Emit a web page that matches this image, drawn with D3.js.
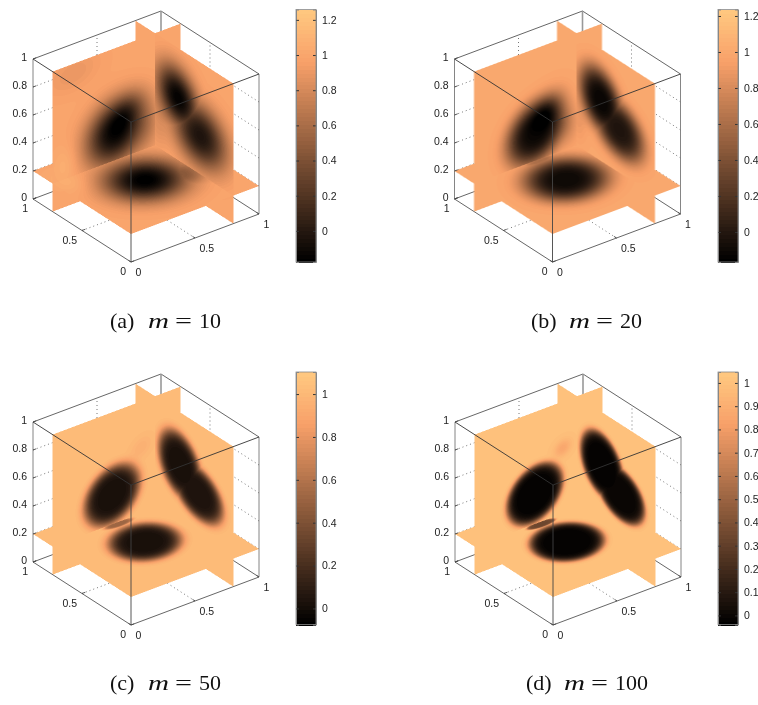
<!DOCTYPE html>
<html>
<head>
<meta charset="utf-8">
<script src="https://cdn.jsdelivr.net/npm/d3@7"></script>
<style>
  html, body { margin: 0; padding: 0; background: #fff; }
  svg { display: block; }
  .tick-label, .colorbar text { font-family: "Liberation Sans", Arial, sans-serif; font-size: 10.5px; fill: #222; }
  .caption { font-family: "Liberation Serif", serif; font-size: 22px; fill: #111; }
  .soft { filter: blur(0.35px); }
</style>
</head>
<body>
<div id="chart"></div>
<script>
// tick labels of the cube and the captions
const cubeTicksZ = [0, 0.2, 0.4, 0.6, 0.8, 1];
const cubeTicksXY = [0, 0.5, 1];
const captionLetters = ["(a)", "(b)", "(c)", "(d)"];
const captionValues = ["10", "20", "50", "100"];

// colour ranges and ticks of the four colorbars
const rangeA = [-0.177, 1.259], ticksA = [0, 0.2, 0.4, 0.6, 0.8, 1, 1.2];
const rangeB = [-0.167, 1.236], ticksB = [0, 0.2, 0.4, 0.6, 0.8, 1, 1.2];
const rangeC = [-0.075, 1.103], ticksC = [0, 0.2, 0.4, 0.6, 0.8, 1];
const rangeD = [-0.039, 1.047], ticksD = [0, 0.1, 0.2, 0.3, 0.4, 0.5, 0.6, 0.7, 0.8, 0.9, 1];

// edge sharpness and background level of each reconstruction
const sharpness = [2.4, 3.4, 6, 9];
const background = [1.0, 1.0, 1.02, 1.0];

// dark regions read off each slice: [a, b, a1, b1, a2, b2, depth]
// (centre and two axis vectors in slice coordinates)
// back wall slice y = 0.8, a = x, b = z
const wallLeftA = [
  [0.488, 0.396, 0.154, 0.167, 0.164, -0.146, 1.12],
  [0.6, 0.54, 0.11, 0.09, 0.09, -0.09, 0.28],
  [0.16, 0.93, 0.2, 0.04, 0.04, -0.12, 0.1],
  [0.1, 0.3, 0.1, 0.0, 0.0, 0.14, -0.08],
  [0.75, 0.34, 0.1, 0.0, 0.0, 0.18, 0.13]
];
const wallLeftB = [
  [0.48, 0.4, 0.165, 0.165, 0.155, -0.142, 1.1],
  [0.59, 0.55, 0.1, 0.09, 0.08, -0.08, 0.28],
  [0.75, 0.34, 0.08, 0.0, 0.0, 0.14, 0.12]
];
const wallLeftC = [
  [0.464, 0.409, 0.168, 0.15, 0.142, -0.142, 1.0],
  [0.69, 0.67, 0.07, 0.06, 0.05, -0.05, 0.06]
];
const wallLeftD = [
  [0.47, 0.415, 0.171, 0.15, 0.142, -0.142, 1.02],
  [0.688, 0.668, 0.05, 0.04, 0.04, -0.04, 0.14]
];
// side slice x = 0.8, a = y, b = z
const wallRightA = [
  [0.565, 0.643, -0.134, -0.175, -0.165, 0.116, 1.15],
  [0.34, 0.475, -0.2, -0.135, -0.175, 0.17, 1.03],
  [0.78, 0.38, 0.1, 0.0, 0.0, 0.18, 0.13]
];
const wallRightB = [
  [0.55, 0.63, -0.137, -0.187, -0.169, 0.119, 1.12],
  [0.365, 0.505, -0.198, -0.127, -0.155, 0.149, 1.02],
  [0.78, 0.38, 0.08, 0.0, 0.0, 0.14, 0.1]
];
const wallRightC = [
  [0.545, 0.624, -0.138, -0.192, -0.173, 0.124, 1.0],
  [0.361, 0.506, -0.21, -0.122, -0.152, 0.143, 0.98]
];
const wallRightD = [
  [0.545, 0.624, -0.139, -0.19, -0.173, 0.124, 1.02],
  [0.355, 0.5, -0.2, -0.121, -0.151, 0.143, 1.0]
];
// floor slice z = 0.2, a = x, b = y
const floorA = [
  [0.484, 0.489, 0.215, -0.146, -0.161, -0.21, 1.18],
  [0.7, 0.41, 0.13, -0.09, -0.1, -0.13, 0.55],
  [0.1, 0.75, 0.12, 0.0, 0.0, 0.16, -0.08]
];
const floorB = [
  [0.485, 0.495, 0.22, -0.143, -0.169, -0.216, 1.1],
  [0.5, 0.78, 0.12, 0.0, 0.0, 0.04, 0.4]
];
const floorC = [
  [0.491, 0.499, 0.197, -0.118, -0.147, -0.192, 1.0],
  [0.5, 0.78, 0.11, 0.0, 0.0, 0.035, 0.5]
];
const floorD = [
  [0.491, 0.499, 0.202, -0.123, -0.152, -0.197, 1.02],
  [0.5, 0.775, 0.11, 0.0, 0.0, 0.035, 0.65]
];

const width = 758, height = 705;
const sliceX = 0.8, sliceY = 0.8, sliceZ = 0.2;

const panels = [
  {ox: 131, oy: 262, barX: 296, barTop: 9.5, range: rangeA, ticks: ticksA, left: wallLeftA, right: wallRightA, floor: floorA, capX: 110, capY: 328},
  {ox: 552.5, oy: 262, barX: 718, barTop: 9.5, range: rangeB, ticks: ticksB, left: wallLeftB, right: wallRightB, floor: floorB, capX: 531, capY: 328},
  {ox: 131, oy: 625, barX: 296, barTop: 372, range: rangeC, ticks: ticksC, left: wallLeftC, right: wallRightC, floor: floorC, capX: 110, capY: 690},
  {ox: 553, oy: 625, barX: 718, barTop: 372, range: rangeD, ticks: ticksD, left: wallLeftD, right: wallRightD, floor: floorD, capX: 526, capY: 690}
];

// projected cube edges
const xToPx = d3.scaleLinear().domain([0, 1]).range([0, 128]);
const xToPy = d3.scaleLinear().domain([0, 1]).range([0, -48]);
const yToPx = d3.scaleLinear().domain([0, 1]).range([0, -98]);
const yToPy = d3.scaleLinear().domain([0, 1]).range([0, -63]);
const zToPy = d3.scaleLinear().domain([0, 1]).range([0, -140]);
const det = 128 * -63 - (-98) * -48;

// copper, 64 levels
const copper = d3.scaleLinear().domain([0, 0.8, 1])
  .range(["rgb(0,0,0)", "rgb(248,160,105)", "rgb(255,199,127)"]);
const palette = d3.range(64).map(i => d3.rgb(copper(i / 63)));

const svg = d3.select("#chart").append("svg")
  .attr("width", width).attr("height", height)
  .attr("xmlns", "http://www.w3.org/2000/svg");

function project(p, x, y, z) {
  return [p.ox + xToPx(x) + yToPx(y), p.oy + xToPy(x) + yToPy(y) + zToPy(z)];
}

function sampleBlobs(blobs, a, b, power, level) {
  let dark = 0, mild = 0;
  for (let i = 0; i < blobs.length; i++) {
    const s = blobs[i];
    const da = a - s[0], db = b - s[1];
    const d = s[2] * s[5] - s[4] * s[3];
    const q1 = (da * s[5] - db * s[4]) / d;
    const q2 = (db * s[2] - da * s[3]) / d;
    const isDark = s[6] > 0.3;
    const c = s[6] * Math.exp(-Math.pow(q1 * q1 + q2 * q2, (isDark ? power : 2) / 2));
    if (isDark) dark = Math.max(dark, c);
    else mild += c;
  }
  return level - dark - mild;
}

function renderSlices(p, power, level) {
  const ss = 2, w = 240, h = 260, x0 = p.ox - 105, y0 = p.oy - 256;
  const canvas = document.createElement("canvas");
  canvas.width = w * ss; canvas.height = h * ss;
  const ctx = canvas.getContext("2d");
  const img = ctx.createImageData(canvas.width, canvas.height);
  const toLevel = d3.scaleLinear().domain(p.range).range([0, 64]);
  for (let j = 0; j < canvas.height; j++) {
    for (let i = 0; i < canvas.width; i++) {
      const sx = x0 + (i + 0.5) / ss - p.ox, sy = y0 + (j + 0.5) / ss - p.oy;
      let best = -Infinity, value = null;

      // slice y = 0.8
      let x = xToPx.invert(sx - yToPx(sliceY));
      let z = zToPy.invert(sy - xToPy(x) - yToPy(sliceY));
      if (x >= 0 && x <= 1 && z >= 0 && z <= 1) {
        best = -x - sliceY + z;
        value = sampleBlobs(p.left, x, z, power, level);
      }
      // slice x = 0.8
      let y = yToPx.invert(sx - xToPx(sliceX));
      z = zToPy.invert(sy - xToPy(sliceX) - yToPy(y));
      if (y >= 0 && y <= 1 && z >= 0 && z <= 1 && -sliceX - y + z > best) {
        best = -sliceX - y + z;
        value = sampleBlobs(p.right, y, z, power, level);
      }
      // slice z = 0.2
      const fy = sy - zToPy(sliceZ);
      x = (-63 * sx + 98 * fy) / det;
      y = (128 * fy + 48 * sx) / det;
      if (x >= 0 && x <= 1 && y >= 0 && y <= 1 && -x - y + sliceZ > best) {
        best = -x - y + sliceZ;
        value = sampleBlobs(p.floor, x, y, power, level);
      }

      if (value !== null) {
        const c = palette[Math.max(0, Math.min(63, Math.floor(toLevel(value))))];
        const k = (j * canvas.width + i) * 4;
        img.data[k] = c.r; img.data[k + 1] = c.g; img.data[k + 2] = c.b; img.data[k + 3] = 255;
      }
    }
  }
  ctx.putImageData(img, 0, 0);
  return {href: canvas.toDataURL(), x: x0, y: y0, w: w, h: h};
}

function drawLine(g, a, b, color, dash, lineWidth) {
  g.append("line")
    .attr("x1", a[0]).attr("y1", a[1]).attr("x2", b[0]).attr("y2", b[1])
    .attr("stroke", color).attr("stroke-width", lineWidth || 0.9)
    .attr("stroke-dasharray", dash || null);
}

panels.forEach(function (p, idx) {
  const g = svg.append("g").attr("class", "soft");
  const P = (x, y, z) => project(p, x, y, z);

  // dotted grid behind the slices
  const grid = g.append("g");
  cubeTicksZ.slice(1, -1).forEach(function (t) {
    drawLine(grid, P(0, 1, t), P(1, 1, t), "#666", "1 3");
    drawLine(grid, P(1, 0, t), P(1, 1, t), "#666", "1 3");
  });
  drawLine(grid, P(0.5, 1, 0), P(0.5, 1, 1), "#666", "1 3");
  drawLine(grid, P(1, 0.5, 0), P(1, 0.5, 1), "#666", "1 3");
  drawLine(grid, P(0.5, 0, 0), P(0.5, 1, 0), "#666", "1 3");
  drawLine(grid, P(0, 0.5, 0), P(1, 0.5, 0), "#666", "1 3");

  // back edges of the box
  const back = g.append("g");
  drawLine(back, P(0, 1, 1), P(1, 1, 1), "#555");
  drawLine(back, P(1, 1, 1), P(1, 0, 1), "#555");
  drawLine(back, P(0, 1, 0), P(1, 1, 0), "#555");
  drawLine(back, P(1, 0, 0), P(1, 1, 0), "#555");
  drawLine(back, P(1, 1, 0), P(1, 1, 1), "#999", null, 1.6);
  drawLine(back, P(0, 1, 0), P(0, 1, 1), "#777");
  drawLine(back, P(1, 0, 0), P(1, 0, 1), "#777");

  const slices = renderSlices(p, sharpness[idx], background[idx]);
  g.append("image")
    .attr("x", slices.x).attr("y", slices.y)
    .attr("width", slices.w).attr("height", slices.h)
    .attr("href", slices.href);

  // front edges drawn over the slices
  const front = g.append("g");
  drawLine(front, P(0, 1, 1), P(0, 0, 1), "#333");
  drawLine(front, P(0, 0, 1), P(1, 0, 1), "#333");
  drawLine(front, P(0, 0, 0), P(0, 0, 1), "#444");
  drawLine(front, P(0, 0, 0), P(0, 1, 0), "#555");
  drawLine(front, P(0, 0, 0), P(1, 0, 0), "#555");

  // cube ticks and labels
  cubeTicksZ.forEach(function (t) {
    const a = P(0, 1, t);
    drawLine(front, a, P(0.025, 1, t), "#444");
    front.append("text").attr("class", "tick-label")
      .attr("x", a[0] - 6).attr("y", a[1] - 2)
      .attr("text-anchor", "end").attr("dominant-baseline", "central").text(t);
  });
  cubeTicksXY.forEach(function (t) {
    const a = P(0, t, 0);
    drawLine(front, a, P(0.025, t, 0), "#444");
    front.append("text").attr("class", "tick-label")
      .attr("x", a[0] - 5).attr("y", a[1] + 9)
      .attr("text-anchor", "end").attr("dominant-baseline", "central").text(t);
    const b = P(t, 0, 0);
    drawLine(front, b, P(t, 0.025, 0), "#444");
    front.append("text").attr("class", "tick-label")
      .attr("x", b[0] + 4.5).attr("y", b[1] + 9.5)
      .attr("text-anchor", "start").attr("dominant-baseline", "central").text(t);
  });

  // colorbar
  const barH = 252.5, barW = 20;
  const bar = g.append("g").attr("class", "colorbar");
  const barScale = d3.scaleLinear().domain(p.range).range([p.barTop + barH, p.barTop]);
  const stepLevels = d3.range(64);
  const levelValue = d3.scaleLinear().domain([0, 64]).range(p.range);
  bar.selectAll("rect.level").data(stepLevels).enter().append("rect")
    .attr("class", "level")
    .attr("shape-rendering", "crispEdges")
    .attr("x", p.barX).attr("width", barW)
    .attr("y", d => barScale(levelValue(d + 1)))
    .attr("height", d => barScale(levelValue(d)) - barScale(levelValue(d + 1)) + 1)
    .attr("fill", d => palette[d]);
  const axisR = bar.append("g").attr("transform", "translate(" + (p.barX + barW) + ",0)")
    .call(d3.axisRight(barScale).tickValues(p.ticks).tickSize(-3).tickPadding(6).tickFormat(d => d));
  const axisL = bar.append("g").attr("transform", "translate(" + p.barX + ",0)")
    .call(d3.axisLeft(barScale).tickValues(p.ticks).tickSize(-3).tickFormat(""));
  axisR.selectAll("line").attr("stroke", "#333");
  axisL.selectAll("line").attr("stroke", "#333");
  axisR.select(".domain").attr("stroke", "#888");
  axisL.select(".domain").attr("stroke", "#888");
  bar.selectAll("text").attr("font-family", null).attr("font-size", null);
  bar.append("rect").attr("x", p.barX).attr("y", p.barTop).attr("width", barW).attr("height", barH)
    .attr("fill", "none").attr("stroke", "#888").attr("stroke-width", 0.8);

  // caption
  const capText = (dx, t) => g.append("text").attr("class", "caption")
    .attr("x", p.capX + dx).attr("y", p.capY).text(t);
  capText(0, captionLetters[idx]);
  capText(38, "m").attr("font-style", "italic")
    .attr("textLength", 21).attr("lengthAdjust", "spacingAndGlyphs");
  capText(65, "=").attr("textLength", 17).attr("lengthAdjust", "spacingAndGlyphs");
  capText(89, captionValues[idx]);
});
</script>
</body>
</html>
